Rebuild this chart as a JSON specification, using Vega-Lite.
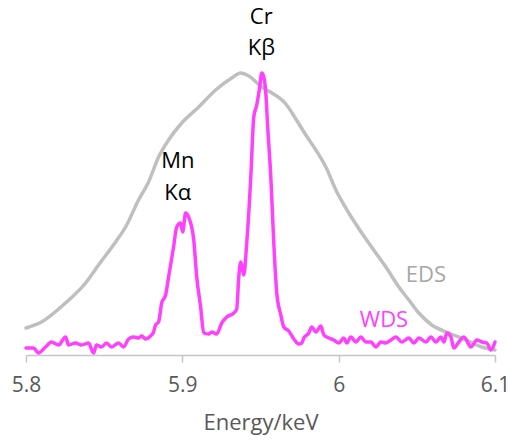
{
  "$schema": "https://vega.github.io/schema/vega-lite/v6.json",
  "width": 469,
  "height": 355,
  "autosize": {"type": "none"},
  "padding": {"left": 26, "top": 0, "right": 15, "bottom": 92},
  "background": "white",
  "config": {"view": {"stroke": null}, "font": "Open Sans"},
  "datasets": {
    "eds": [
      {"energy": 5.8, "counts": 27}, {"energy": 5.8099, "counts": 33}, {"energy": 5.8253, "counts": 52},
      {"energy": 5.8381, "counts": 72}, {"energy": 5.8464, "counts": 90}, {"energy": 5.8573, "counts": 113},
      {"energy": 5.8637, "counts": 128}, {"energy": 5.872, "counts": 155}, {"energy": 5.8784, "counts": 173},
      {"energy": 5.8848, "counts": 198}, {"energy": 5.8912, "counts": 215}, {"energy": 5.8996, "counts": 232},
      {"energy": 5.9105, "counts": 248}, {"energy": 5.9213, "counts": 265}, {"energy": 5.9316, "counts": 277},
      {"energy": 5.9373, "counts": 282}, {"energy": 5.9425, "counts": 279}, {"energy": 5.9508, "counts": 268},
      {"energy": 5.9573, "counts": 262}, {"energy": 5.9662, "counts": 251}, {"energy": 5.9726, "counts": 236},
      {"energy": 5.979, "counts": 220}, {"energy": 5.9854, "counts": 205}, {"energy": 5.9918, "counts": 188},
      {"energy": 5.9982, "counts": 165}, {"energy": 6.0065, "counts": 142}, {"energy": 6.0148, "counts": 122},
      {"energy": 6.0238, "counts": 102}, {"energy": 6.0302, "counts": 88}, {"energy": 6.0385, "counts": 68},
      {"energy": 6.0449, "counts": 55}, {"energy": 6.0513, "counts": 42}, {"energy": 6.0596, "counts": 30},
      {"energy": 6.0705, "counts": 22}, {"energy": 6.0814, "counts": 15}, {"energy": 6.0916, "counts": 8},
      {"energy": 6.1, "counts": 5}
    ],
    "wds": [
      {"energy": 5.8, "counts": 7}, {"energy": 5.8048, "counts": 7}, {"energy": 5.808, "counts": 2},
      {"energy": 5.8125, "counts": 8}, {"energy": 5.8163, "counts": 13}, {"energy": 5.8208, "counts": 10},
      {"energy": 5.8253, "counts": 18}, {"energy": 5.8272, "counts": 10}, {"energy": 5.8317, "counts": 12},
      {"energy": 5.8355, "counts": 10}, {"energy": 5.84, "counts": 12}, {"energy": 5.8432, "counts": 2},
      {"energy": 5.8451, "counts": 10}, {"energy": 5.8483, "counts": 8}, {"energy": 5.8515, "counts": 12},
      {"energy": 5.8547, "counts": 8}, {"energy": 5.8592, "counts": 12}, {"energy": 5.8624, "counts": 8},
      {"energy": 5.8656, "counts": 16}, {"energy": 5.8688, "counts": 18}, {"energy": 5.872, "counts": 17},
      {"energy": 5.874, "counts": 19}, {"energy": 5.8765, "counts": 16}, {"energy": 5.8797, "counts": 19},
      {"energy": 5.8816, "counts": 23}, {"energy": 5.8829, "counts": 30}, {"energy": 5.8848, "counts": 33},
      {"energy": 5.8868, "counts": 52}, {"energy": 5.8893, "counts": 60}, {"energy": 5.8912, "counts": 78},
      {"energy": 5.8944, "counts": 108}, {"energy": 5.8964, "counts": 128}, {"energy": 5.8989, "counts": 132},
      {"energy": 5.9002, "counts": 123}, {"energy": 5.9021, "counts": 142}, {"energy": 5.904, "counts": 138},
      {"energy": 5.9073, "counts": 115}, {"energy": 5.9092, "counts": 78}, {"energy": 5.9117, "counts": 48},
      {"energy": 5.9137, "counts": 22}, {"energy": 5.9169, "counts": 21}, {"energy": 5.9188, "counts": 23},
      {"energy": 5.922, "counts": 21}, {"energy": 5.9252, "counts": 32}, {"energy": 5.9284, "counts": 38},
      {"energy": 5.9329, "counts": 42}, {"energy": 5.9348, "counts": 46}, {"energy": 5.9361, "counts": 78},
      {"energy": 5.9374, "counts": 93}, {"energy": 5.9393, "counts": 80}, {"energy": 5.9412, "counts": 112},
      {"energy": 5.9438, "counts": 178}, {"energy": 5.9457, "counts": 238}, {"energy": 5.9476, "counts": 250},
      {"energy": 5.9495, "counts": 268}, {"energy": 5.9508, "counts": 282}, {"energy": 5.9521, "counts": 278},
      {"energy": 5.9534, "counts": 262}, {"energy": 5.9546, "counts": 228}, {"energy": 5.9566, "counts": 178},
      {"energy": 5.9585, "counts": 112}, {"energy": 5.9604, "counts": 62}, {"energy": 5.963, "counts": 40},
      {"energy": 5.9649, "counts": 28}, {"energy": 5.9681, "counts": 24}, {"energy": 5.9713, "counts": 16},
      {"energy": 5.9745, "counts": 11}, {"energy": 5.9764, "counts": 12}, {"energy": 5.9777, "counts": 17},
      {"energy": 5.9809, "counts": 22}, {"energy": 5.9828, "counts": 28}, {"energy": 5.9854, "counts": 23},
      {"energy": 5.9886, "counts": 29}, {"energy": 5.9905, "counts": 20}, {"energy": 5.9937, "counts": 17},
      {"energy": 5.9969, "counts": 15}, {"energy": 6.0001, "counts": 12}, {"energy": 6.0033, "counts": 17},
      {"energy": 6.0052, "counts": 12}, {"energy": 6.0078, "counts": 18}, {"energy": 6.011, "counts": 13},
      {"energy": 6.0142, "counts": 18}, {"energy": 6.0174, "counts": 13}, {"energy": 6.0206, "counts": 13},
      {"energy": 6.0238, "counts": 8}, {"energy": 6.027, "counts": 13}, {"energy": 6.0302, "counts": 12},
      {"energy": 6.0334, "counts": 15}, {"energy": 6.0366, "counts": 18}, {"energy": 6.0404, "counts": 13},
      {"energy": 6.0449, "counts": 17}, {"energy": 6.0481, "counts": 12}, {"energy": 6.0513, "counts": 17},
      {"energy": 6.0558, "counts": 13}, {"energy": 6.059, "counts": 18}, {"energy": 6.0622, "counts": 13},
      {"energy": 6.0654, "counts": 18}, {"energy": 6.0673, "counts": 13}, {"energy": 6.0692, "counts": 22},
      {"energy": 6.0718, "counts": 18}, {"energy": 6.0737, "counts": 7}, {"energy": 6.0769, "counts": 13},
      {"energy": 6.0801, "counts": 18}, {"energy": 6.0846, "counts": 8}, {"energy": 6.0884, "counts": 15},
      {"energy": 6.0916, "counts": 13}, {"energy": 6.0948, "counts": 12}, {"energy": 6.0974, "counts": 5},
      {"energy": 6.1, "counts": 13}
    ],
    "labels": [
      {"energy": 5.9505, "counts": 331, "label": "Cr", "kind": "peak"},
      {"energy": 5.9505, "counts": 300, "label": "Kβ", "kind": "peak"},
      {"energy": 5.8971, "counts": 187, "label": "Mn", "kind": "peak"},
      {"energy": 5.8971, "counts": 155, "label": "Kα", "kind": "peak"},
      {"energy": 6.0558, "counts": 73, "label": "EDS", "kind": "EDS"},
      {"energy": 6.029, "counts": 28, "label": "WDS", "kind": "WDS"}
    ]
  },
  "encoding": {
    "x": {
      "field": "energy",
      "type": "quantitative",
      "scale": {"domain": [5.8, 6.1], "nice": false, "zero": false},
      "axis": {
        "title": "Energy/keV",
        "values": [5.8, 5.9, 6.0, 6.1],
        "format": "~g",
        "grid": false,
        "domainColor": "#c6c6c6",
        "domainWidth": 1.5,
        "tickColor": "#c6c6c6",
        "tickWidth": 1.5,
        "tickSize": 7,
        "labelFontSize": 21,
        "labelColor": "#595959",
        "labelPadding": 12,
        "labelFlush": false,
        "titleFontSize": 22,
        "titleColor": "#595959",
        "titleFontWeight": "normal",
        "titlePadding": 17
      }
    },
    "y": {
      "field": "counts",
      "type": "quantitative",
      "scale": {"domain": [0, 355], "nice": false},
      "axis": null
    }
  },
  "layer": [
    {
      "data": {"name": "eds"},
      "mark": {"type": "line", "color": "#bfbfbf", "strokeWidth": 3.5, "interpolate": "monotone", "strokeCap": "round", "strokeJoin": "round"}
    },
    {
      "data": {"name": "wds"},
      "mark": {"type": "line", "color": "#ff40ff", "strokeWidth": 3.5, "interpolate": "monotone", "strokeCap": "round", "strokeJoin": "round"}
    },
    {
      "data": {"name": "labels"},
      "mark": {"type": "text", "fontSize": 22, "align": "center", "baseline": "alphabetic"},
      "encoding": {
        "text": {"field": "label"},
        "color": {
          "field": "kind",
          "type": "nominal",
          "scale": {"domain": ["peak", "EDS", "WDS"], "range": ["#000000", "#a6a6a6", "#ff40ff"]},
          "legend": null
        }
      }
    }
  ]
}
